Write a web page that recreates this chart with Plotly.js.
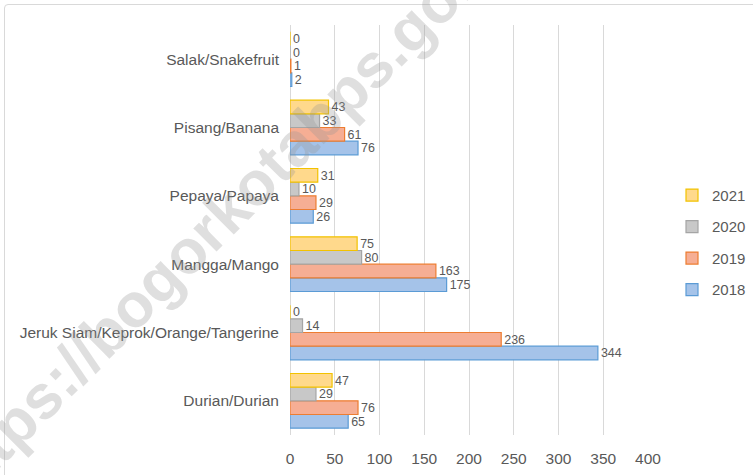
<!DOCTYPE html>
<html>
<head>
<meta charset="utf-8">
<script src="https://cdn.plot.ly/plotly-3.0.1.min.js"></script>
<style>
  html, body { margin: 0; padding: 0; background: #fff; }
  #frame { position: absolute; left: 4px; top: 4px; width: 800px; height: 800px; border: 1px solid #d9d9d9; border-radius: 4px; }
  #chart { position: absolute; left: 0; top: 0; width: 753px; height: 475px; }
</style>
</head>
<body>
<div id="frame"></div>
<div id="chart"></div>
<script>
const categories = ["Durian/Durian", "Jeruk Siam/Keprok/Orange/Tangerine", "Mangga/Mango", "Pepaya/Papaya", "Pisang/Banana", "Salak/Snakefruit"];
const years = ["2018", "2019", "2020", "2021"];
const v2018 = [65, 344, 175, 26, 76, 2];
const v2019 = [76, 236, 163, 29, 61, 1];
const v2020 = [29, 14, 80, 10, 33, 0];
const v2021 = [47, 0, 75, 31, 43, 0];
const xTicks = [0, 50, 100, 150, 200, 250, 300, 350, 400];

const seriesValues = [v2018, v2019, v2020, v2021];
const fills = ["#a5c3e9", "#f6ae94", "#c8c8c8", "#ffd98c"];
const borders = ["#5b9bd5", "#ed7d31", "#a5a5a5", "#f2c200"];

const FONT = "Liberation Sans, Arial, sans-serif";
const traces = years.map((yr, i) => ({
  type: "bar",
  orientation: "h",
  name: yr,
  legendgroup: yr,
  legendrank: 10 - i,
  y: categories,
  x: seriesValues[i],
  text: seriesValues[i].map(String),
  textposition: "outside",
  cliponaxis: false,
  textfont: { family: FONT, size: 15.5, color: "#595959" },
  marker: { color: fills[i], line: { color: borders[i], width: 1.2 } },
  hoverinfo: "x+name"
}));

const layout = {
  width: 753, height: 475,
  margin: { l: 290, r: 105, t: 25, b: 40, autoexpand: false },
  paper_bgcolor: "rgba(0,0,0,0)",
  plot_bgcolor: "rgba(0,0,0,0)",
  barmode: "group",
  bargap: 0.2,
  bargroupgap: 0,
  font: { family: FONT, size: 15.5, color: "#595959" },
  xaxis: {
    range: [0, 400],
    tickvals: xTicks,
    ticktext: xTicks.map(String),
    showgrid: true, gridcolor: "#d9d9d9", gridwidth: 1,
    zeroline: true, zerolinecolor: "#d9d9d9", zerolinewidth: 1,
    showline: false,
    ticks: "", ticklabelstandoff: 12,
    tickfont: { family: FONT, size: 15.5, color: "#595959" },
    fixedrange: true
  },
  yaxis: {
    type: "category",
    showgrid: false, zeroline: false, showline: false,
    ticks: "", ticklabelstandoff: 10,
    tickfont: { family: FONT, size: 15.5, color: "#595959" },
    fixedrange: true
  },
  showlegend: true,
  legend: {
    x: (672 - 290) / 358, xanchor: "left", y: 0.47, yanchor: "middle",
    traceorder: "grouped",
    tracegroupgap: 9,
    font: { family: FONT, size: 15, color: "#595959" },
    bgcolor: "rgba(0,0,0,0)",
    itemwidth: 30
  },
  annotations: [{
    xref: "paper", yref: "paper",
    x: (222 - 290) / 358, y: (435 - 215) / 410,
    xanchor: "center", yanchor: "middle",
    text: "https://bogorkotabps.go.id",
    showarrow: false,
    textangle: -45,
    font: { family: FONT, size: 62, color: "rgba(150,150,150,0.3)", weight: "bold" }
  }]
};

Plotly.newPlot("chart", traces, layout, { displayModeBar: false, staticPlot: true });
</script>
</body>
</html>
